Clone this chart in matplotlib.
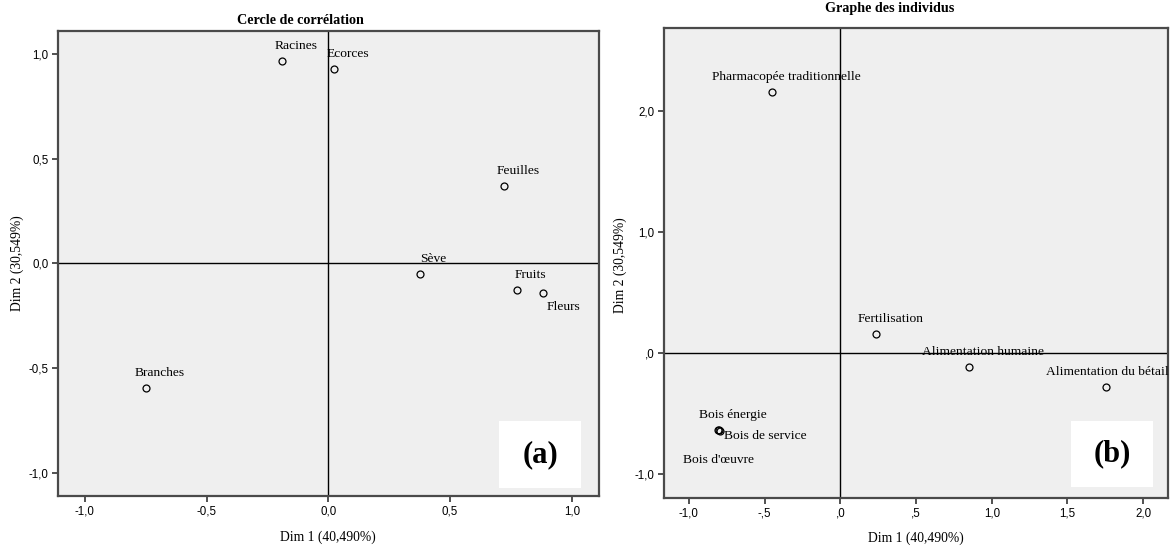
import matplotlib
matplotlib.use("Agg")
import matplotlib.pyplot as plt
from matplotlib.patches import Rectangle
from matplotlib.ticker import FuncFormatter, FixedLocator

# correlation circle (variables)
var_names = ["Racines", "Ecorces", "Feuilles", "Sève", "Fruits", "Fleurs", "Branches"]
var_dim1 = [-0.19, 0.025, 0.723, 0.376, 0.775, 0.882, -0.748]
var_dim2 = [0.967, 0.928, 0.367, -0.051, -0.126, -0.141, -0.597]

# individuals
ind_names = ["Pharmacopée traditionnelle", "Fertilisation", "Alimentation humaine",
             "Alimentation du bétail", "Bois énergie", "Bois de service", "Bois d'œuvre"]
ind_dim1 = [-0.448, 0.238, 0.853, 1.757, -0.802, -0.795, -0.808]
ind_dim2 = [2.155, 0.155, -0.116, -0.284, -0.639, -0.645, -0.633]

left_ticks = [-1.0, -0.5, 0.0, 0.5, 1.0]
right_xticks = [-1.0, -0.5, 0.0, 0.5, 1.0, 1.5, 2.0]
right_yticks = [-1.0, 0.0, 1.0, 2.0]

SERIF = "Liberation Serif"
SANS = "Liberation Sans"
BG = "#efefef"
FRAME = "#4a4a4a"

# label offsets (points) relative to each marker; default is above-right
DEFAULT_OFF = (10, 10.8)
label_off = {
    "Fleurs": (15, -10.5),
    "Alimentation du bétail": (0.5, 10.8),
    "Bois de service": (33, -3.9),
    "Bois d'œuvre": (0.5, -21.6),
}


def fr_comma(v, pos):
    return f"{v:.1f}".replace(".", ",")


def spss_comma(v, pos):
    s = f"{v:.1f}".replace(".", ",")
    if s.startswith("0,"):
        s = s[1:]
    elif s.startswith("-0,"):
        s = "-" + s[2:]
    return s


def style_axes(ax, xticks, yticks, fmt):
    ax.set_facecolor(BG)
    for sp in ax.spines.values():
        sp.set_color(FRAME)
        sp.set_linewidth(1.6)
    ax.axhline(0, color="black", lw=1.0, zorder=1)
    ax.axvline(0, color="black", lw=1.0, zorder=1)
    ax.xaxis.set_major_locator(FixedLocator(xticks))
    ax.yaxis.set_major_locator(FixedLocator(yticks))
    ax.xaxis.set_major_formatter(FuncFormatter(fmt))
    ax.yaxis.set_major_formatter(FuncFormatter(fmt))
    ax.tick_params(direction="out", length=4, width=1.2, color="#333333",
                   labelsize=8.3, pad=3)
    for lab in ax.get_xticklabels() + ax.get_yticklabels():
        lab.set_fontfamily(SANS)


def draw_points(ax, names, xs, ys):
    ax.plot(xs, ys, linestyle="none", marker="o", markersize=5,
            markerfacecolor="none", markeredgecolor="black",
            markeredgewidth=0.9, zorder=3)
    for name, x, y in zip(names, xs, ys):
        ax.annotate(name, (x, y), xytext=label_off.get(name, DEFAULT_OFF),
                    textcoords="offset points", ha="center", va="center",
                    fontsize=9.7, family=SERIF, zorder=4)


def panel_tag(ax, tag, box):
    x0, y0, w, h = box
    ax.add_patch(Rectangle((x0, y0), w, h, transform=ax.transAxes,
                           facecolor="white", edgecolor="none", zorder=5))
    ax.text(x0 + w / 2, y0 + h / 2, tag, transform=ax.transAxes,
            ha="center", va="center", fontsize=22, fontweight="bold",
            family=SERIF, zorder=6)


fig = plt.figure(figsize=(11.72, 5.5), dpi=100)

ax1 = fig.add_axes([0.0495, 0.0982, 0.4616, 0.8455])
style_axes(ax1, left_ticks, left_ticks, fr_comma)
ax1.set_xlim(-1.11, 1.112)
ax1.set_ylim(-1.112, 1.11)
draw_points(ax1, var_names, var_dim1, var_dim2)
panel_tag(ax1, "(a)", (0.8155, 0.0166, 0.151, 0.145))

ax2 = fig.add_axes([0.5666, 0.0951, 0.430, 0.8545])
style_axes(ax2, right_xticks, right_yticks, spss_comma)
ax2.set_xlim(-1.164, 2.164)
ax2.set_ylim(-1.196, 2.69)
draw_points(ax2, ind_names, ind_dim1, ind_dim2)
panel_tag(ax2, "(b)", (0.8067, 0.0221, 0.164, 0.141))

# titles and axis labels
fig.text(300 / 1172, 1 - 20 / 550, "Cercle de corrélation", ha="center", va="center",
         fontsize=10.2, fontweight="bold", family=SERIF)
fig.text(890 / 1172, 1 - 8.5 / 550, "Graphe des individus", ha="center", va="center",
         fontsize=10.2, fontweight="bold", family=SERIF)
fig.text(328 / 1172, 1 - 537 / 550, "Dim 1 (40,490%)", ha="center", va="center",
         fontsize=9.8, family=SERIF)
fig.text(916 / 1172, 1 - 538 / 550, "Dim 1 (40,490%)", ha="center", va="center",
         fontsize=9.8, family=SERIF)
fig.text(17 / 1172, 1 - 263 / 550, "Dim 2 (30,549%)", ha="center", va="center",
         rotation=90, fontsize=9.8, family=SERIF)
fig.text(620 / 1172, 1 - 265 / 550, "Dim 2 (30,549%)", ha="center", va="center",
         rotation=90, fontsize=9.8, family=SERIF)

fig.savefig("out.png", dpi=100, facecolor="white")
